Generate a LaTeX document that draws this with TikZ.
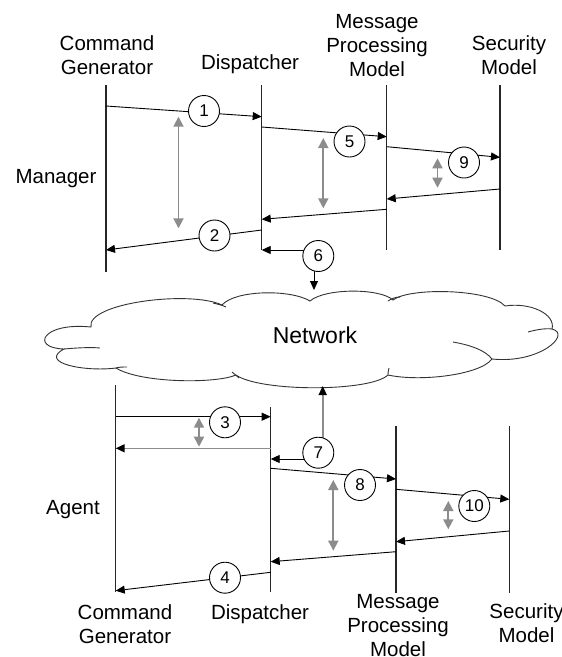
\documentclass[tikz,border=0pt]{standalone}
\usepackage{fontspec}
\setmainfont{Liberation Sans}
\usetikzlibrary{arrows.meta,backgrounds}
\definecolor{spangray}{gray}{0.55}
\begin{document}
\begin{tikzpicture}[x=1pt,y=-1pt,
  lifeline/.style={draw=black!85,line width=1.3pt},
  msg/.style={draw=black,line width=0.9pt,-{Triangle[length=9pt,width=8pt]}},
  greymsg/.style={draw=spangray,line width=1.6pt,-{Triangle[length=9pt,width=8pt,color=black]}},
  span/.style={draw=spangray,line width=1.8pt,{Triangle[length=10pt,width=10pt]}-{Triangle[length=10pt,width=10pt]}},
  num/.style={circle,draw,line width=0.9pt,fill=white,minimum size=31pt,inner sep=0pt,font=\fontsize{17}{17}\selectfont},
  lbl/.style={align=center,font=\fontsize{20.5}{24}\selectfont},
  cloudline/.style={draw=black!80,line width=0.9pt},
]
\useasboundingbox (0,0) rectangle (562,657);

% ---------- labels ----------
\node[lbl] (tCG)  at (107,55)    {Command\\Generator};
\node[lbl] (tDP)  at (250,64.5)  {Dispatcher};
\node[lbl] (tMP)  at (377,45.5)  {Message\\Processing\\Model};
\node[lbl] (tSM)  at (509,55)    {Security\\Model};
\node[lbl] (mgr)  at (56,178.5)  {Manager};
\node[lbl] (agt)  at (73,510)    {Agent};
\node[lbl] (bCG)  at (125,624.5) {Command\\Generator};
\node[lbl] (bDP)  at (260,614)   {Dispatcher};
\node[lbl] (bMP)  at (398,626)   {Message\\Processing\\Model};
\node[lbl] (bSM)  at (526.5,623.5) {Security\\Model};

% ---------- lifelines: manager side ----------
\coordinate (cgT) at (106,85);    \coordinate (cgB) at (106,271.7);
\coordinate (dpT) at (261.7,85);  \coordinate (dpB) at (261.7,250);
\coordinate (mpT) at (386.7,85);  \coordinate (mpB) at (386.7,250);
\coordinate (smT) at (500,85);    \coordinate (smB) at (500,250);
% ---------- lifelines: agent side ----------
\coordinate (acgT) at (115.7,385);  \coordinate (acgB) at (115.7,592);
\coordinate (adpT) at (270.7,407);  \coordinate (adpB) at (270.7,592);
\coordinate (ampT) at (396,426);    \coordinate (ampB) at (396,592.7);
\coordinate (asmT) at (509.3,426);  \coordinate (asmB) at (509.3,592.7);

% ---------- step numbers ----------
\node[num] (c1)  at (204,111)     {1};
\node[num] (c5)  at (349.5,141.5) {5};
\node[num] (c9)  at (464,162.5)   {9};
\node[num] (c2)  at (214.5,235.5) {2};
\node[num] (c6)  at (318.3,256)   {6};
\node[num] (c3)  at (225,422.3)   {3};
\node[num] (c7)  at (318.3,452.7) {7};
\node[num] (c8)  at (360,485)     {8};
\node[num] (c10) at (474.3,506)   {10};
\node[num] (c4)  at (225,577.7)   {4};

% ---------- network cloud ----------
\node[font=\fontsize{23}{23}\selectfont] (net) at (315,335) {Network};

% message end points on the lifelines
\coordinate (m1s) at (106,106);     \coordinate (m1e) at (261.7,116.7);
\coordinate (m5s) at (261.7,127);   \coordinate (m5e) at (386.7,136.7);
\coordinate (m9s) at (386.7,146.7); \coordinate (m9e) at (500,157.3);
\coordinate (r9s) at (500,189);     \coordinate (r9e) at (386.7,199);
\coordinate (r5s) at (386.7,209.3); \coordinate (r5e) at (261.7,219.3);
\coordinate (m2s) at (261.7,230);   \coordinate (m2e) at (106,250);
\coordinate (m6e) at (261.7,250);   \coordinate (n6)  at (314,290);
\coordinate (m3s) at (115.7,416.7); \coordinate (m3e) at (270.7,416.7);
\coordinate (g3s) at (270.7,448.3); \coordinate (g3e) at (115.7,448.3);
\coordinate (m7e) at (270.7,459);   \coordinate (n7)  at (322.7,386);
\coordinate (m8s) at (270.7,468.3); \coordinate (m8e) at (396,479);
\coordinate (m10s) at (396,489.3);  \coordinate (m10e) at (509.3,499.3);
\coordinate (r10s) at (509.3,531);  \coordinate (r10e) at (396,541.7);
\coordinate (r8s) at (396,551.7);   \coordinate (r8e) at (270.7,561.7);
\coordinate (m4s) at (270.7,572.3); \coordinate (m4e) at (115.7,590.7);

% timing spans
\coordinate (s1a) at (178.5,116.7); \coordinate (s1b) at (178.5,228.3);
\coordinate (s2a) at (323.3,138);   \coordinate (s2b) at (323.3,208.3);
\coordinate (s3a) at (437.5,158.3); \coordinate (s3b) at (437.5,187.7);
\coordinate (s4a) at (199,417.7);   \coordinate (s4b) at (199,446.7);
\coordinate (s5a) at (333.3,480);   \coordinate (s5b) at (333.3,550.7);
\coordinate (s6a) at (448.3,501);   \coordinate (s6b) at (448.3,529.3);

\begin{pgfonlayer}{background}
  \fill[white] (0,0) rectangle (562,657);

  % cloud outline
  \draw[cloudline, fill=white]
    (91,327) .. controls (86,303) and (190,290) .. (222,305)
    .. controls (235,290) and (290,289) .. (310,301)
    .. controls (325,288) and (380,288) .. (393,300)
    .. controls (410,287) and (490,289) .. (505,306)
    .. controls (530,302) and (556,314) .. (552,329)
    .. controls (572,334) and (540,364) .. (492,359)
    .. controls (480,375) and (420,382) .. (388,375)
    .. controls (370,392) and (260,392) .. (236,375)
    .. controls (215,384) and (140,383) .. (116,368)
    .. controls (85,372) and (38,363) .. (64,349)
    .. controls (30,348) and (42,322) .. (91,327) -- cycle;
  % hidden ends of the overlapping puffs
  \draw[cloudline] (64,349) .. controls (75,348) and (90,347) .. (100,348);
  \draw[cloudline] (528,332) .. controls (535,330) and (545,328) .. (552,329);
  \draw[cloudline] (453,342) .. controls (470,345) and (485,350) .. (492,359);
  \draw[cloudline] (213,303) .. controls (217,304) and (222,305) .. (226,307);
  \draw[cloudline] (388,301) .. controls (391,299) and (395,297) .. (400,297);
  \draw[cloudline] (389,368) .. controls (388,371) and (388,374) .. (388,375);
  \draw[cloudline] (232,372) .. controls (234,374) and (236,375) .. (239,378);
  \draw[cloudline] (116,368) .. controls (119,367) and (123,367) .. (127,367);

  % lifelines
  \draw[lifeline] (cgT) -- (cgB);
  \draw[lifeline] (dpT) -- (dpB);
  \draw[lifeline] (mpT) -- (mpB);
  \draw[lifeline] (smT) -- (smB);
  \draw[lifeline] (acgT) -- (acgB);
  \draw[lifeline] (adpT) -- (adpB);
  \draw[lifeline] (ampT) -- (ampB);
  \draw[lifeline] (asmT) -- (asmB);

  % manager messages
  \draw[msg] (m1s) -- (m1e);
  \draw[msg] (m5s) -- (m5e);
  \draw[msg] (m9s) -- (m9e);
  \draw[msg] (r9s) -- (r9e);
  \draw[msg] (r5s) -- (r5e);
  \draw[msg] (m2s) -- (m2e);
  \draw[msg] (c6 |- m6e) -- (m6e);
  \draw[msg] (c6 -| n6) -- (n6);

  % agent messages
  \draw[msg] (m3s) -- (m3e);
  \draw[greymsg] (g3s) -- (g3e);
  \draw[msg] (c7 |- m7e) -- (m7e);
  \draw[greymsg] (c7 -| n7) -- (n7);
  \draw[msg] (m8s) -- (m8e);
  \draw[msg] (m10s) -- (m10e);
  \draw[msg] (r10s) -- (r10e);
  \draw[msg] (r8s) -- (r8e);
  \draw[msg] (m4s) -- (m4e);

  % processing time spans
  \draw[span] (s1a) -- (s1b);
  \draw[span] (s2a) -- (s2b);
  \draw[span] (s3a) -- (s3b);
  \draw[span] (s4a) -- (s4b);
  \draw[span] (s5a) -- (s5b);
  \draw[span] (s6a) -- (s6b);
\end{pgfonlayer}
\end{tikzpicture}
\end{document}
